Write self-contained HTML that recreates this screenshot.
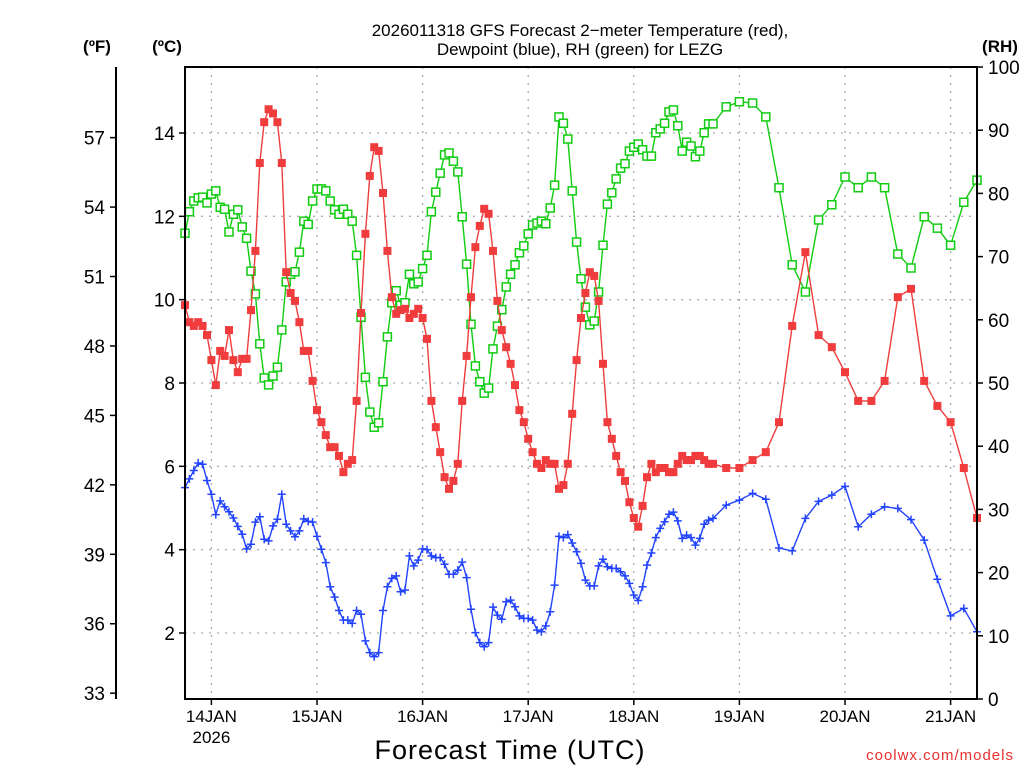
<!DOCTYPE html>
<html><head><meta charset="utf-8"><style>
html,body{margin:0;padding:0;background:#fff;}
svg{display:block;font-family:"Liberation Sans",sans-serif;}
</style></head><body>
<svg id="chart" width="1024" height="768" viewBox="0 0 1024 768">
<g id="grid"></g>
<g id="series"></g>
<rect x="185" y="67" width="792" height="632" fill="none" stroke="#000" stroke-width="2"/>
<g id="axes"></g>
<text x="580" y="36" font-size="17" text-anchor="middle">2026011318 GFS Forecast 2−meter Temperature (red),</text>
<text x="580" y="55" font-size="17" text-anchor="middle">Dewpoint (blue), RH (green) for LEZG</text>
<text x="97" y="52" font-size="17" font-weight="bold" text-anchor="middle">(ºF)</text>
<text x="167" y="52" font-size="17" font-weight="bold" text-anchor="middle">(ºC)</text>
<text x="1000" y="52" font-size="17" font-weight="bold" text-anchor="middle">(RH)</text>
<text x="510" y="759" font-size="27" text-anchor="middle" letter-spacing="1">Forecast Time (UTC)</text>
<text x="1014" y="760" font-size="15" fill="#e83030" text-anchor="end" letter-spacing="1">coolwx.com/models</text>
</svg>
<script>
const tempC=[9.87,9.46,9.37,9.46,9.37,9.15,8.55,7.95,8.77,8.65,9.27,8.55,8.26,8.58,8.58,9.75,11.17,13.28,14.26,14.57,14.47,14.26,13.28,10.66,10.16,9.97,9.46,8.77,8.77,8.05,7.35,7.06,6.75,6.46,6.46,6.25,5.86,6.06,6.15,7.57,9.68,11.58,12.97,13.66,13.57,12.56,11.17,10.06,9.66,9.75,9.78,9.56,9.66,9.78,9.56,9.06,7.57,6.94,6.34,5.74,5.46,5.65,6.06,7.57,8.65,10.06,11.26,11.77,12.18,12.06,11.17,9.97,9.27,8.86,8.46,7.95,7.35,7.06,6.66,6.34,6.06,5.96,6.15,6.06,6.06,5.46,5.55,6.06,7.26,8.55,9.56,10.16,10.66,10.57,9.97,8.46,7.06,6.66,6.25,5.86,5.65,5.14,4.76,4.55,5.05,5.74,6.06,5.86,5.96,5.96,5.86,5.86,6.06,6.25,6.15,6.15,6.25,6.25,6.15,6.06,6.06,5.96,5.96,6.15,6.34,7.06,9.37,11.14,9.15,8.86,8.26,7.57,7.57,8.05,10.06,10.26,8.05,7.45,7.06,5.96,4.76];
const dewC=[5.49,5.70,5.90,6.08,6.05,5.66,5.33,4.84,5.17,5.03,4.91,4.76,4.56,4.37,4.02,4.13,4.66,4.79,4.25,4.21,4.57,4.73,5.33,4.61,4.45,4.31,4.45,4.74,4.68,4.66,4.32,4.01,3.69,3.11,2.86,2.54,2.31,2.31,2.23,2.54,2.45,1.81,1.53,1.43,1.53,2.54,3.11,3.31,3.37,2.99,3.03,3.85,3.61,3.75,4.02,4.00,3.85,3.81,3.81,3.65,3.41,3.41,3.51,3.70,3.33,2.57,2.01,1.77,1.67,1.77,2.62,2.43,2.33,2.75,2.79,2.63,2.41,2.35,2.35,2.31,2.07,2.03,2.17,2.51,3.15,4.32,4.29,4.36,4.16,3.95,3.67,3.27,3.13,3.13,3.61,3.77,3.59,3.55,3.55,3.47,3.37,3.19,2.91,2.78,3.11,3.63,3.92,4.29,4.51,4.67,4.85,4.90,4.69,4.27,4.35,4.29,4.11,4.27,4.61,4.71,4.75,5.07,5.19,5.35,5.21,4.04,3.97,4.75,5.16,5.31,5.52,4.55,4.85,5.03,4.99,4.72,4.23,3.29,2.41,2.59,2.03];
const rhPct=[73.7,77.1,78.8,79.3,79.4,78.5,79.9,80.4,77.8,77.5,73.9,76.7,77.4,74.7,72.9,67.7,64.1,56.2,50.8,49.7,51.1,52.5,58.4,66.0,67.2,67.6,70.7,75.6,75.1,78.8,80.7,80.7,80.4,78.8,77.4,76.7,77.5,76.7,75.6,70.2,60.4,50.9,45.4,43.0,43.7,50.2,57.3,62.7,64.6,62.3,62.7,67.2,65.7,66.0,68.1,70.2,77.1,80.2,83.2,86.1,86.4,85.1,83.4,76.3,68.8,59.3,52.7,50.2,48.4,49.2,55.4,59.0,61.6,65.2,67.2,68.7,70.6,71.7,73.6,75.0,75.3,75.6,75.2,77.7,81.3,92.1,91.1,88.6,80.4,72.3,66.5,62.0,59.2,59.8,64.4,71.8,78.3,80.1,82.3,84.0,84.7,86.7,87.3,87.8,86.9,85.9,85.9,89.6,90.2,91.1,92.9,93.2,90.7,86.7,88.1,87.5,85.8,86.7,89.6,91.0,91.0,93.7,94.5,94.3,92.1,80.9,68.7,64.4,75.8,78.2,82.6,80.9,82.6,80.9,70.4,68.2,76.3,74.5,71.8,78.6,82.1];
const celsiusTicks=[2,4,6,8,10,12,14];
const fahrenheitTicks=[33,36,39,42,45,48,51,54,57];
const rhTicks=[0,10,20,30,40,50,60,70,80,90,100];
const dayLabels=["14JAN","15JAN","16JAN","17JAN","18JAN","19JAN","20JAN","21JAN"];
const hourlyEnd=120, stepAfter=3, lastHour=180;
const forecastHours=[];
for(let h=0;h<=lastHour;h+=(h<hourlyEnd?1:stepAfter)) forecastHours.push(h);

const NS="http://www.w3.org/2000/svg";
const X0=185,X1=977,Y0=67,Y1=699;
const xH=h=>X0+(h/186)*(X1-X0)*(186/180);
const xHour=h=>X0+h*(X1-X0)/180;
const yC=c=>133+(14-c)*(500/12);
const yRH=r=>Y1-r*(Y1-Y0)/100;
const yF=f=>yC((f-32)*5/9);
function mk(tag,attrs,parent){const e=document.createElementNS(NS,tag);for(const k in attrs)e.setAttribute(k,attrs[k]);parent.appendChild(e);return e;}
const grid=document.getElementById('grid'),axes=document.getElementById('axes'),series=document.getElementById('series');

celsiusTicks.forEach(c=>{
  const l=mk('line',{x1:X0,x2:X1,y1:yC(c),y2:yC(c),stroke:'#aaa','stroke-width':1.3,'stroke-dasharray':'2 6'},grid);
  
  
  const t=mk('line',{x1:X0-6,x2:X0,y1:yC(c),y2:yC(c),stroke:'#000','stroke-width':1.5},axes);
  
  
  const tx=mk('text',{x:X0-10,y:yC(c)+7,'font-size':19,'text-anchor':'end'},axes);
  tx.textContent=c;
  
  
});
dayLabels.forEach((d,i)=>{
  const x=xHour(6+24*i);
  const l=mk('line',{x1:x,x2:x,y1:Y0,y2:Y1,stroke:'#aaa','stroke-width':1.3,'stroke-dasharray':'2 6'},grid);
  
  
  const t=mk('line',{x1:x,x2:x,y1:Y1,y2:Y1+6,stroke:'#000','stroke-width':1.5},axes);
  
  
  const tx=mk('text',{x:x,y:722,'font-size':17,'text-anchor':'middle'},axes);
  tx.textContent=d;
  
  
});
const yr=mk('text',{x:xHour(6),y:743,'font-size':17,'text-anchor':'middle'},axes);
yr.textContent="2026";



const fl=mk('line',{x1:116,x2:116,y1:Y0,y2:Y1,stroke:'#000','stroke-width':2},axes);


fahrenheitTicks.forEach(f=>{
  const t=mk('line',{x1:110,x2:116,y1:yF(f),y2:yF(f),stroke:'#000','stroke-width':1.5},axes);
  
  
  const tx=mk('text',{x:105,y:yF(f)+7,'font-size':19,'text-anchor':'end'},axes);
  tx.textContent=f;
  
  
});
rhTicks.forEach(r=>{
  const t=mk('line',{x1:X1,x2:X1+6,y1:yRH(r),y2:yRH(r),stroke:'#000','stroke-width':1.5},axes);
  
  
  const tx=mk('text',{x:988,y:yRH(r)+7,'font-size':19,'text-anchor':'start'},axes);
  tx.textContent=r;
  
  
});

function drawSeries(vals,yf,color,kind,name){
  const pts=vals.map((v,i)=>[xHour(forecastHours[i]),yf(v)]);
  const g=mk('g',{},series);
  
  
  const pl=mk('polyline',{points:pts.map(p=>p.join(',')).join(' '),fill:'none',stroke:color,'stroke-width':1.4},g);
  
  
  pts.forEach(([x,y])=>{
    let m;
    if(kind==='fill') m=mk('rect',{x:x-4,y:y-4,width:8,height:8,fill:color},g);
    else if(kind==='open') m=mk('rect',{x:x-4,y:y-4,width:8,height:8,fill:'#fff',stroke:color,'stroke-width':1.5},g);
    else m=mk('path',{d:`M${x-4},${y}H${x+4}M${x},${y-4}V${y+4}`,stroke:color,'stroke-width':1.5},g);
    
    
  });
}
drawSeries(rhPct,yRH,'#10cc10','open','rh');
drawSeries(tempC,yC,'#f03c3c','fill','temperature');
drawSeries(dewC,yC,'#2244ff','plus','dewpoint');
</script>
</body></html>
